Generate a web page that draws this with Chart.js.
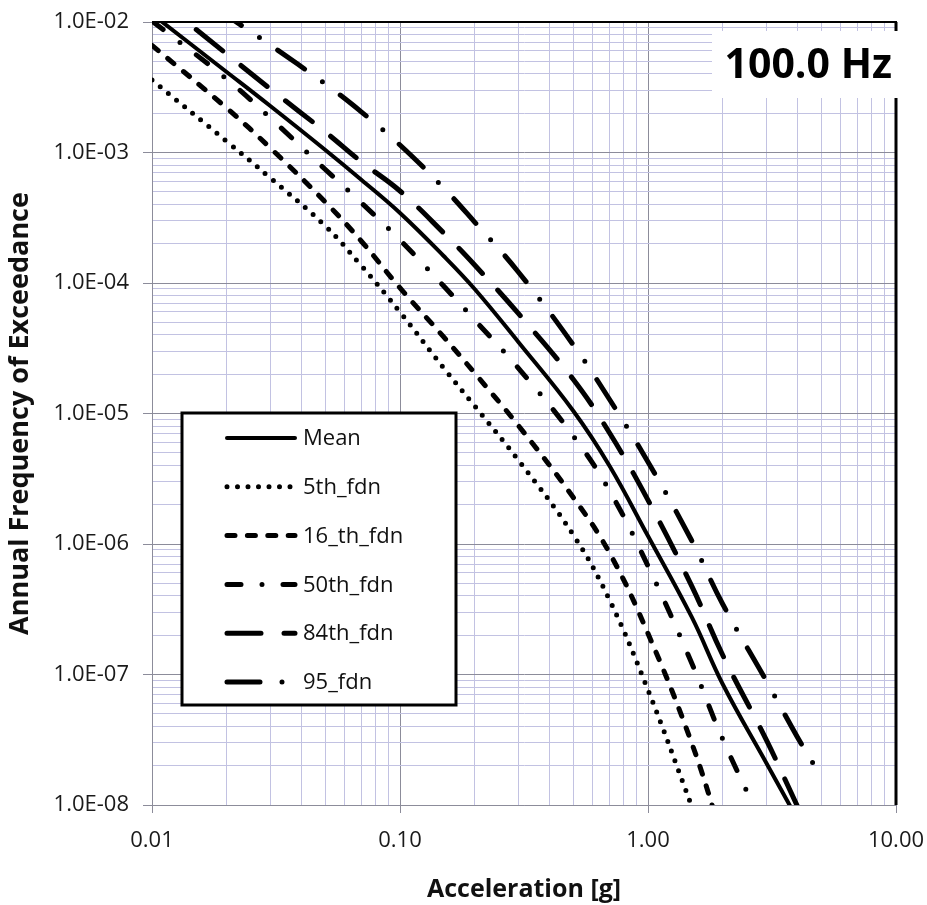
<!DOCTYPE html>
<html>
<head>
<meta charset="utf-8">
<title>Hazard curves 100.0 Hz</title>
<script src="https://cdn.jsdelivr.net/npm/chart.js@4.4.1/dist/chart.umd.min.js"></script>
<style>
    html, body { margin: 0; padding: 0; background: #fff; }
    #wrap { width: 927px; height: 905px; }
</style>
</head>
<body>
<div id="wrap"><canvas id="hazardChart" width="927" height="905"></canvas></div>
<script>
const accel = [0.01, 0.02, 0.03, 0.05, 0.07, 0.1, 0.15, 0.2, 0.3, 0.5, 0.7, 1.0, 1.5, 2.0, 3.0, 4.0, 4.75];

const meanFreq = [1.15e-2, 4.14e-3, 2.27e-3, 1.045e-3, 6.16e-4, 3.44e-4, 1.61e-4, 8.99e-5, 3.53e-5, 1.045e-5, 3.96e-6, 1.15e-6, 2.76e-7, 8.46e-8, 2.10e-8, 7.81e-9, null];
const p05Freq = [3.59e-3, 1.218e-3, 6.38e-4, 2.73e-4, 1.35e-4, 5.99e-5, 2.23e-5, 1.142e-5, 4.40e-6, 1.172e-6, 3.72e-7, 7.61e-8, 9.82e-9, null, null, null, null];
const p16Freq = [6.63e-3, 2.19e-3, 1.083e-3, 4.17e-4, 2.08e-4, 9.16e-5, 3.86e-5, 2.04e-5, 8.09e-6, 2.27e-6, 8.53e-7, 2.06e-7, 2.99e-8, 5.49e-9, null, null, null];
const p50Freq = [1.018e-2, 3.66e-3, 1.838e-3, 7.41e-4, 4.10e-4, 2.135e-4, 9.48e-5, 5.21e-5, 2.23e-5, 6.72e-6, 2.55e-6, 6.78e-7, 1.225e-7, 3.20e-8, 6.21e-9, null, null];
const p84Freq = [1.64e-2, 5.69e-3, 3.07e-3, 1.436e-3, 8.46e-4, 5.07e-4, 2.42e-4, 1.373e-4, 5.84e-5, 1.822e-5, 7.09e-6, 2.17e-6, 4.77e-7, 1.411e-7, 3.15e-8, 9.82e-9, null];
const p95Freq = [2.93e-2, 1.127e-2, 6.66e-3, 3.35e-3, 2.04e-3, 1.141e-3, 5.35e-4, 2.93e-4, 1.215e-4, 3.35e-5, 1.28e-5, 4.25e-6, 1.063e-6, 3.47e-7, 8.93e-8, 3.32e-8, 1.92e-8];

const seriesLabels = ['Mean', '5th_fdn', '16_th_fdn', '50th_fdn', '84th_fdn', '95_fdn'];

const xDecades = [0.01, 0.1, 1, 10];
const xTickLabels = ['0.01', '0.10', '1.00', '10.00'];
const yDecades = [1e-8, 1e-7, 1e-6, 1e-5, 1e-4, 1e-3, 1e-2];
const yTickLabels = ['1.0E-08', '1.0E-07', '1.0E-06', '1.0E-05', '1.0E-04', '1.0E-03', '1.0E-02'];

const freqTag = '100.0 Hz';
const xTitle = 'Acceleration [g]';
const yTitle = 'Annual Frequency of Exceedance';

const FONT = '"Open Sans", "Noto Sans", sans-serif';
const MAJOR_GRID = '#8c8c9a';
const MINOR_GRID = '#c2c2e2';

Chart.defaults.font.family = FONT;

const toPoints = (ys) => accel.map((x, i) => ({ x: x, y: ys[i] }));

const isDecade = (decades, v) => decades.findIndex(d => Math.abs(v - d) / d < 1e-6);

// 1..9 per decade, like the spreadsheet's minor grid
function decadeTicks(decades) {
    const ticks = [];
    decades.forEach((d, i) => {
        ticks.push({ value: d, major: true });
        if (i < decades.length - 1) {
            for (let m = 2; m <= 9; m++) {
                ticks.push({ value: d * m, major: false });
            }
        }
    });
    return ticks;
}

const gridColor = (ctx) => (ctx.tick && ctx.tick.major ? MAJOR_GRID : MINOR_GRID);
const tickMarkColor = (ctx) => (ctx.tick && ctx.tick.major ? MAJOR_GRID : 'rgba(0,0,0,0)');

const lineStyles = [
    { width: 4, dash: [] },
    { width: 5, dash: [0, 10.5] },
    { width: 5, dash: [8, 12.4] },
    { width: 5, dash: [14, 21, 0, 21] },
    { width: 5, dash: [34, 23] },
    { width: 5, dash: [33, 22, 0, 22] }
];

const seriesData = [meanFreq, p05Freq, p16Freq, p50Freq, p84Freq, p95Freq];

const datasets = seriesLabels.map((label, i) => ({
    label: label,
    data: toPoints(seriesData[i]),
    borderColor: '#000',
    backgroundColor: '#000',
    borderWidth: lineStyles[i].width,
    borderDash: lineStyles[i].dash,
    borderCapStyle: 'round',
    borderJoinStyle: 'round',
    pointRadius: 0,
    fill: false,
    tension: 0.4,
    spanGaps: false,
    clip: 0
}));

const overlay = {
    id: 'overlay',
    afterDatasetsDraw(chart) {
        const { ctx, chartArea: a } = chart;
        ctx.save();

        // top and right frame edges are black in the original
        ctx.setLineDash([]);
        ctx.strokeStyle = '#000';
        ctx.lineWidth = 2;
        ctx.beginPath();
        ctx.moveTo(a.left, a.top);
        ctx.lineTo(a.right + 1, a.top);
        ctx.stroke();
        ctx.lineWidth = 3;
        ctx.beginPath();
        ctx.moveTo(a.right, a.top);
        ctx.lineTo(a.right, a.bottom);
        ctx.stroke();

        // frequency tag on a white patch
        ctx.fillStyle = '#fff';
        ctx.fillRect(a.right - 184, a.top + 9, 190, 67);
        ctx.fillStyle = '#000';
        ctx.font = 'bold 41px ' + FONT;
        ctx.textAlign = 'right';
        ctx.textBaseline = 'middle';
        ctx.fillText(freqTag, a.right - 4, a.top + 44);

        // legend box
        const lx = a.left + 30;
        const ly = a.top + 391;
        ctx.fillStyle = '#fff';
        ctx.fillRect(lx, ly, 274, 292);
        ctx.strokeStyle = '#000';
        ctx.lineWidth = 3;
        ctx.strokeRect(lx, ly, 274, 292);

        ctx.font = '22px ' + FONT;
        ctx.textAlign = 'left';
        ctx.textBaseline = 'middle';
        chart.data.datasets.forEach((ds, i) => {
            const y = ly + 25 + i * 48.8;
            ctx.strokeStyle = '#000';
            ctx.lineWidth = ds.borderWidth;
            ctx.lineCap = 'round';
            ctx.setLineDash(ds.borderDash);
            ctx.lineDashOffset = 0;
            ctx.beginPath();
            ctx.moveTo(lx + 45, y);
            ctx.lineTo(lx + 113, y);
            ctx.stroke();
            ctx.setLineDash([]);
            ctx.fillStyle = '#111';
            ctx.fillText(ds.label, lx + 121, y + 1);
        });

        ctx.restore();
    }
};

const ctxHazard = document.getElementById('hazardChart').getContext('2d');
new Chart(ctxHazard, {
    type: 'line',
    data: { datasets: datasets },
    options: {
        responsive: false,
        animation: false,
        events: [],
        layout: {
            padding: { top: 22, right: 31, bottom: 0, left: 0 }
        },
        plugins: {
            legend: { display: false },
            tooltip: { enabled: false }
        },
        scales: {
            x: {
                type: 'logarithmic',
                min: 0.01,
                max: 10,
                afterBuildTicks: (scale) => { scale.ticks = decadeTicks(xDecades); },
                afterFit: (scale) => {
                    scale.height = 100;
                    scale.paddingLeft = 0;
                    scale.paddingRight = 0;
                },
                ticks: {
                    autoSkip: false,
                    maxRotation: 0,
                    padding: 15,
                    color: '#1a1a1a',
                    font: { size: 22 },
                    callback: function (value) {
                        const i = isDecade(xDecades, value);
                        return i >= 0 ? xTickLabels[i] : '';
                    }
                },
                grid: {
                    color: gridColor,
                    lineWidth: 1,
                    drawTicks: true,
                    tickLength: 8,
                    tickColor: tickMarkColor
                },
                border: { display: true, color: MAJOR_GRID, width: 1 },
                title: {
                    display: true,
                    text: xTitle,
                    color: '#111',
                    font: { size: 25, weight: 'bold' },
                    padding: { top: 0, bottom: 0 }
                }
            },
            y: {
                type: 'logarithmic',
                min: 1e-8,
                max: 1e-2,
                afterBuildTicks: (scale) => { scale.ticks = decadeTicks(yDecades); },
                afterFit: (scale) => {
                    scale.width = 152;
                    scale.paddingTop = 0;
                    scale.paddingBottom = 0;
                },
                ticks: {
                    autoSkip: false,
                    padding: 14,
                    color: '#1a1a1a',
                    font: { size: 22 },
                    callback: function (value) {
                        const i = isDecade(yDecades, value);
                        return i >= 0 ? yTickLabels[i] : '';
                    }
                },
                grid: {
                    color: gridColor,
                    lineWidth: 1,
                    drawTicks: true,
                    tickLength: 9,
                    tickColor: tickMarkColor
                },
                border: { display: true, color: MAJOR_GRID, width: 1 },
                title: {
                    display: true,
                    text: yTitle,
                    color: '#111',
                    font: { size: 27, weight: 'bold' },
                    padding: { top: 4, bottom: 0 }
                }
            }
        }
    },
    plugins: [overlay]
});
</script>
</body>
</html>
